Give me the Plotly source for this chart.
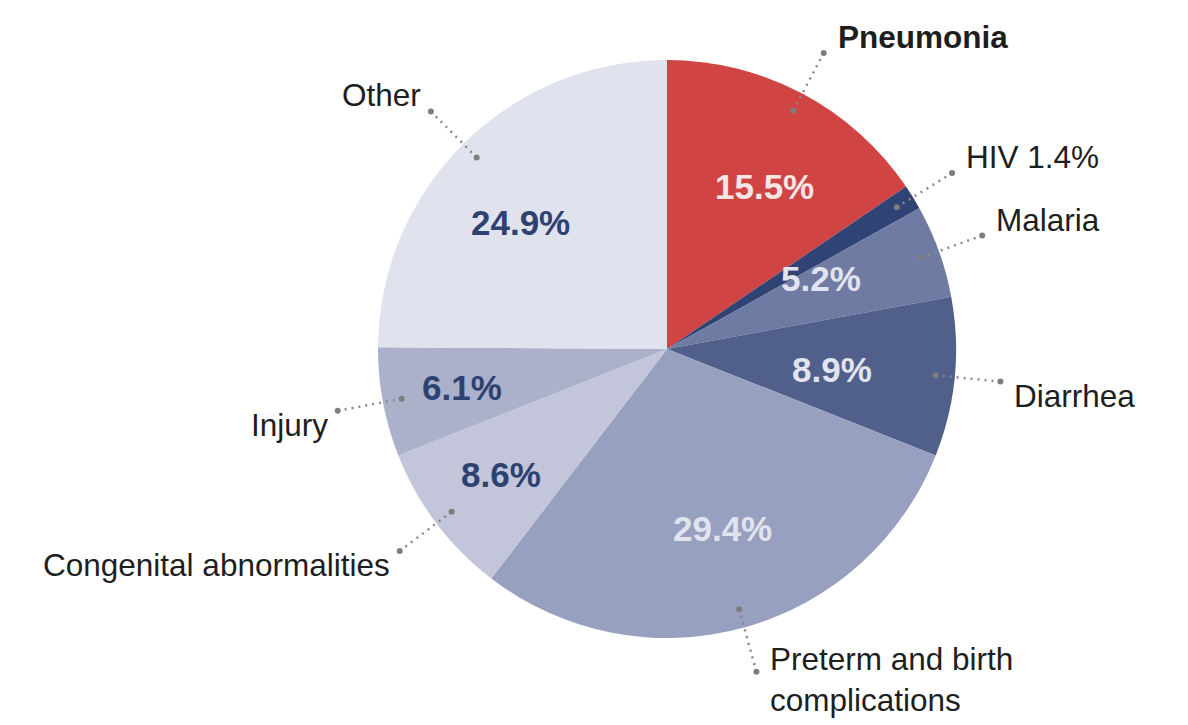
import math
import plotly.graph_objects as go

# Causes of death, children under 5 (share of deaths, %)
CAUSES = ["Pneumonia", "HIV", "Malaria", "Diarrhea",
          "Preterm and birth<br>complications", "Congenital abnormalities",
          "Injury", "Other"]
SHARES = [15.5, 1.4, 5.2, 8.9, 29.4, 8.6, 6.1, 24.9]
COLORS = ["#D14444", "#2F4474", "#6F7BA3", "#515F8B",
          "#98A0BF", "#C3C6DB", "#ACB1CB", "#E0E2EE"]
PCT_COLORS = ["#F8E6E6", "#E1E3EE", "#E1E3EE", "#E1E3EE",
              "#E1E3EE", "#2E4272", "#2E4272", "#2E4272"]
HIGHLIGHT = "Pneumonia"

W, H = 1188, 725
PAGE = 8                                  # default body margin of the page
CX, CY, R = 667 - PAGE, 349 - PAGE, 289   # pie centre and radius, pixels
FONT = "Liberation Sans"


def to_paper(px, py):
    return px / W, 1 - py / H


def polar(angle_deg, radius):
    a = math.radians(angle_deg)
    return CX + radius * math.sin(a), CY - radius * math.cos(a)


fig = go.Figure(go.Pie(
    labels=CAUSES,
    values=SHARES,
    sort=False,
    direction="clockwise",
    rotation=0,
    marker=dict(colors=COLORS, line=dict(width=0)),
    textinfo="none",
    hoverinfo="label+percent",
    showlegend=False,
    domain=dict(x=[(CX - R) / W, (CX + R) / W],
                y=[1 - (CY + R) / H, 1 - (CY - R) / H]),
))

total = sum(SHARES)
shapes = []
annotations = []
cum = 0
for name, val, pcol in zip(CAUSES, SHARES, PCT_COLORS):
    mid = (cum + val / 2) / total * 360
    cum += val
    s, c = math.sin(math.radians(mid)), math.cos(math.radians(mid))

    # percentage inside the slice (tiny slices get it in the outside label)
    small = val < 2
    if not small:
        x, y = to_paper(*polar(mid, R * 0.72))
        annotations.append(dict(
            x=x, y=y, xref="paper", yref="paper", showarrow=False,
            text=f"<b>{val:.1f}%</b>",
            font=dict(family=FONT, size=35, color=pcol)))

    # dotted leader line
    x0, y0 = to_paper(*polar(mid, 270))
    x1, y1 = to_paper(*polar(mid, 335))
    shapes.append(dict(type="line", xref="paper", yref="paper",
                       x0=x0, y0=y0, x1=x1, y1=y1, layer="above",
                       line=dict(color="#8A8A8A", width=2.5, dash="2px,5px")))
    for xx, yy in [(x0, y0), (x1, y1)]:
        shapes.append(dict(type="circle", xref="paper", yref="paper",
                           xsizemode="pixel", ysizemode="pixel",
                           xanchor=xx, yanchor=yy, x0=-3, x1=3, y0=-3, y1=3,
                           layer="above", fillcolor="#7E7E7E",
                           line=dict(width=0)))

    # outside label
    label = f"{name} {val:.1f}%" if small else name
    if name == HIGHLIGHT:
        label = f"<b>{label}</b>"
    if c < -0.9:
        yanch, yshift = "middle", -8
    elif c > 0:
        yanch, yshift = "bottom", -4
    else:
        yanch, yshift = "top", 6
    annotations.append(dict(
        x=x1, y=y1, xref="paper", yref="paper", showarrow=False,
        text=label, align="left" if s > 0 else "right",
        xanchor="left" if s > 0 else "right",
        yanchor=yanch, xshift=12 if s > 0 else -8, yshift=yshift,
        font=dict(family=FONT, size=31.5, color="#1E1E1E")))

fig.update_layout(
    width=W, height=H,
    margin=dict(l=0, r=0, t=0, b=0),
    paper_bgcolor="white",
    plot_bgcolor="white",
    shapes=shapes,
    annotations=annotations,
)

fig.write_html("out.html")
